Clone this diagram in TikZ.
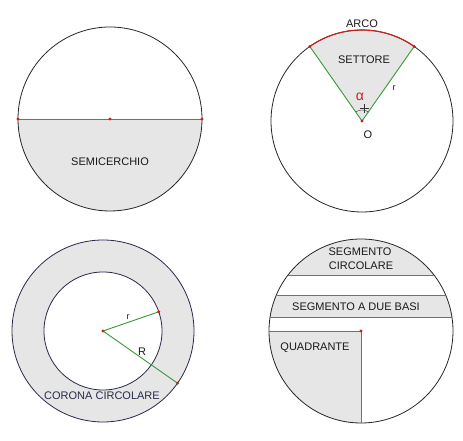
\documentclass[tikz,border=0pt]{standalone}
\usepackage{fontspec}
\setmainfont{Liberation Sans}
\usetikzlibrary{calc}
\definecolor{areagray}{RGB}{230,230,230}
\definecolor{radgreen}{RGB}{60,150,60}
\definecolor{ptred}{RGB}{205,30,30}
\definecolor{rimnavy}{RGB}{40,42,75}
\tikzset{
	rim/.style={draw=black!85,line width=0.8pt},
	radius line/.style={draw=radgreen,line width=0.9pt},
	dot/.style={fill=ptred},
	lbl/.style={font=\fontsize{11}{12}\selectfont,text=black!90,inner sep=0pt}
}
\begin{document}
\begin{tikzpicture}[x=1pt,y=1pt]
	\useasboundingbox (0,0) rectangle (463,441);
	% semicerchio
	\coordinate (c1) at (110,322);
	\coordinate (d1a) at (18,322);
	\coordinate (d1b) at (202,322);
	\fill[areagray] (d1a) arc (180:360:92) -- cycle;
	\draw[rim] (c1) circle (92);
	\draw[radius line] (d1a) -- (d1b);
	\foreach \p in {d1a,c1,d1b} \fill[dot] (\p) circle (1.6);
	\node[lbl] (semi) at (110,279) {SEMICERCHIO};
	% settore
	\coordinate (c2) at (362,320);
	\coordinate (s2a) at ($(c2)+(55:91)$);
	\coordinate (s2b) at ($(c2)+(125:91)$);
	\fill[areagray] (c2) -- (s2a) arc (55:125:91) -- cycle;
	\draw[rim] (c2) circle (91);
	\draw[ptred,line width=1.1pt] (s2a) arc (55:125:91);
	\draw[radius line] (c2) -- (s2a);
	\draw[radius line] (c2) -- (s2b);
	\draw[black!80,thin] ($(c2)+(55:11)$) arc (55:125:11);
	\draw[black!80,thin] (364,328) -- (364,337) (359.5,332.5) -- (368.5,332.5);
	\foreach \p in {c2,s2a,s2b} \fill[dot] (\p) circle (1.6);
	\node[lbl] (arco) at (362,417) {ARCO};
	\node[lbl] (settore) at (364,381) {SETTORE};
	\node[lbl,font=\fontsize{9}{10}\selectfont] (r2) at (394,353) {r};
	\node[lbl,text=ptred,font=\fontsize{14}{14}\selectfont] (alpha) at (360,344) {α};
	\node[lbl] (o2) at (368,306) {O};
	% corona circolare
	\coordinate (c3) at (103,110);
	\coordinate (p3in) at ($(c3)+(19:59)$);
	\coordinate (p3out) at ($(c3)+(-35:91)$);
	\fill[areagray,even odd rule] (c3) circle (91) (c3) circle (59);
	\draw[rimnavy,line width=0.8pt] (c3) circle (91);
	\draw[rimnavy,line width=0.8pt] (c3) circle (59);
	\draw[radius line] (c3) -- (p3in);
	\draw[radius line] (c3) -- (p3out);
	\foreach \p in {c3,p3in,p3out} \fill[dot] (\p) circle (1.6);
	\node[lbl,font=\fontsize{9}{10}\selectfont] (r3) at (128,124) {r};
	\node[lbl] (bigr3) at (142,89) {R};
	\node[lbl,text=rimnavy] (corona) at (102,45) {CORONA CIRCOLARE};
	% segmenti e quadrante
	\coordinate (c4) at (361,110);
	\coordinate (k1a) at ($(c4)+(37.5:92)$);
	\coordinate (k1b) at ($(c4)+(142.5:92)$);
	\coordinate (k2a) at ($(c4)+(22.4:92)$);
	\coordinate (k2b) at ($(c4)+(157.6:92)$);
	\coordinate (k3a) at ($(c4)+(8.75:92)$);
	\coordinate (k3b) at ($(c4)+(171.25:92)$);
	\coordinate (q4l) at ($(c4)+(180:92)$);
	\coordinate (q4d) at ($(c4)+(270:92)$);
	\fill[areagray] (k1a) arc (37.5:142.5:92) -- cycle;
	\fill[areagray] (k3a) arc (8.75:22.4:92) -- (k2b) arc (157.6:171.25:92) -- cycle;
	\fill[areagray] (c4) -- (q4l) arc (180:270:92) -- cycle;
	\draw[rim] (c4) circle (92);
	\draw[radius line] (k1a) -- (k1b);
	\draw[radius line] (k2a) -- (k2b);
	\draw[radius line] (k3a) -- (k3b);
	\draw[radius line] (q4l) -- (c4) -- (q4d);
	\fill[dot] (c4) circle (1.6);
	\node[lbl] (seg1) at (360,189) {SEGMENTO};
	\node[lbl] (seg2) at (361,175) {CIRCOLARE};
	\node[lbl] (basi) at (356,134) {SEGMENTO A DUE BASI};
	\node[lbl] (quad) at (315,93) {QUADRANTE};
\end{tikzpicture}
\end{document}
